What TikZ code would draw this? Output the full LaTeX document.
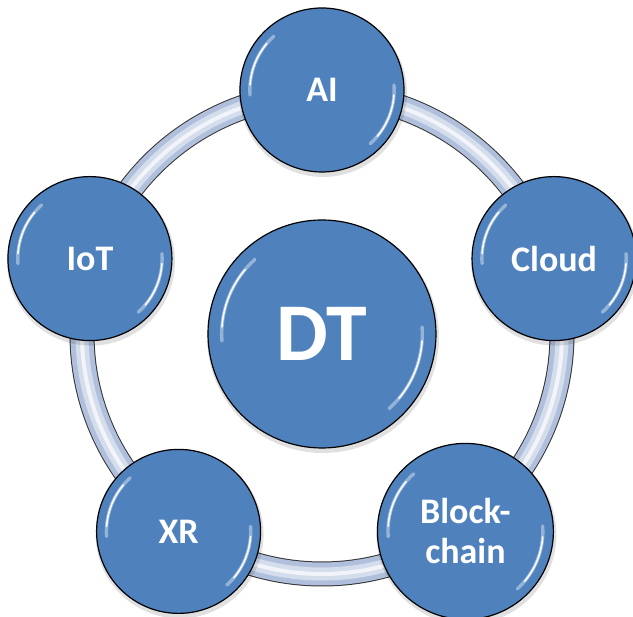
\documentclass[tikz,border=0pt]{standalone}
\usepackage{fontspec}
\setmainfont{Carlito}
\usepackage{tikz}
\usetikzlibrary{calc}
\definecolor{nodeblue}{HTML}{4F81BD}
\definecolor{rimblue}{HTML}{43709F}
\definecolor{tubeedge}{HTML}{333333}
\definecolor{tubeblue}{HTML}{B0C0DC}
\definecolor{tubelight}{HTML}{D4DDEC}
\pgfdeclareradialshading{bevel}{\pgfpoint{0bp}{0bp}}{%
  color(0bp)=(nodeblue); color(44bp)=(nodeblue); color(49bp)=(rimblue); color(50bp)=(rimblue)}
\tikzset{
  hub/.style={circle, draw=black, line width=1.2pt, shading=bevel, text=white,
    font=\bfseries\fontsize{82}{82}\selectfont, minimum size=228pt, inner sep=0pt},
  tech/.style={circle, draw=black, line width=1.2pt, shading=bevel, text=white,
    font=\bfseries\fontsize{36}{40}\selectfont, align=center, inner sep=0pt},
  halo/.style={fill=black, opacity=0.12},
  glossw/.style={white, line width=3.4pt, opacity=0.4, line cap=round},
  glossn/.style={white, line width=1.6pt, opacity=0.95, line cap=round}
}
\begin{document}
\begin{tikzpicture}[x=1pt,y=1pt]
  \useasboundingbox (0,0) rectangle (633,617);
  \coordinate (mid) at (322,283);

  % tube ring behind the five outer discs
  \draw[tubeedge, line width=25pt] (mid) circle (240pt);
  \draw[tubeblue, line width=23pt] (mid) circle (240pt);
  \draw[tubelight, line width=13pt] (mid) circle (240pt);
  \draw[white, line width=4pt, opacity=0.7] (mid) circle (240pt);

  \fill[halo] ($(mid)+(1,-3)$) circle (116pt);
  \node[hub] (dt) at (mid) {DT};

  \foreach \ang/\nm/\sz/\txt in {90/ai/164/AI, 18/cloud/164/Cloud, -54/chain/176/{Block-\\chain},
      234/xr/164/XR, 162/iot/164/IoT}{
    \fill[halo] ($(mid)+(\ang:244)+(1,-3)$) circle ({\sz/2+2});
    \node[tech, minimum size=\sz pt] (\nm) at ($(mid)+(\ang:244)$) {\txt};
  }

  % glossy highlights on every disc
  \foreach \nm/\rr in {dt/114, ai/82, cloud/82, chain/88, xr/82, iot/82}{
    \draw[glossw] ($(\nm.center)+(132:0.88*\rr)$) arc[start angle=132, end angle=184, radius=0.88*\rr];
    \draw[glossn] ($(\nm.center)+(140:0.88*\rr)$) arc[start angle=140, end angle=176, radius=0.88*\rr];
    \draw[glossw] ($(\nm.center)+(-48:0.88*\rr)$) arc[start angle=-48, end angle=4, radius=0.88*\rr];
    \draw[glossn] ($(\nm.center)+(-40:0.88*\rr)$) arc[start angle=-40, end angle=-4, radius=0.88*\rr];
  }
\end{tikzpicture}
\end{document}
